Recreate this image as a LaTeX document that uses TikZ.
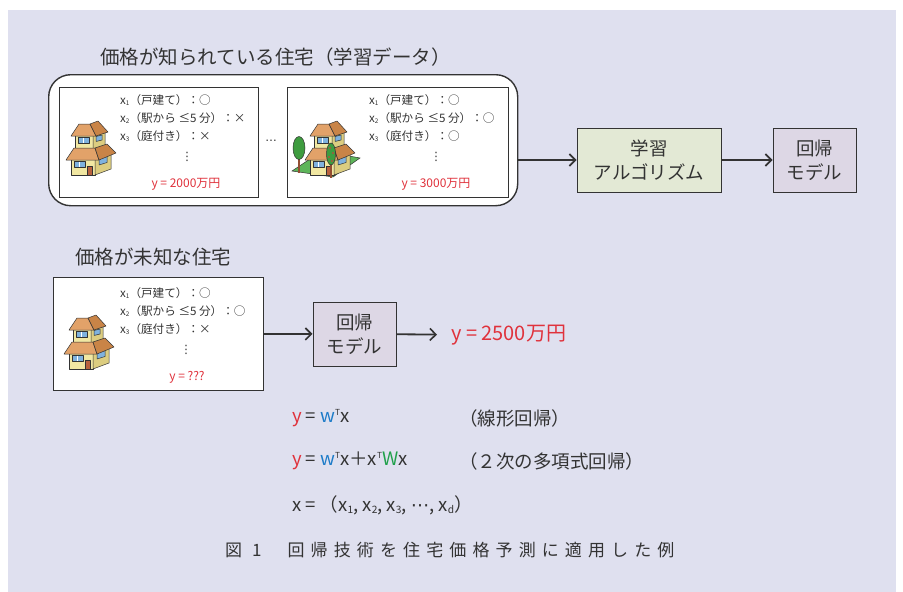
\documentclass[tikz,border=0pt]{standalone}
\usepackage{fontspec}
\setmainfont{Noto Sans CJK JP}
\newfontfamily\symfont{DejaVu Sans}
\newfontfamily\capfont[LetterSpace=36]{Noto Sans CJK JP}
\usetikzlibrary{arrows.meta,positioning}

\definecolor{bgcol}{HTML}{DFE0EF}
\definecolor{ink}{HTML}{333333}
\definecolor{yred}{HTML}{E0323C}
\definecolor{wblue}{HTML}{1C7BC8}
\definecolor{wgreen}{HTML}{1FA04A}
\definecolor{algofill}{HTML}{E3E9D5}
\definecolor{modelfill}{HTML}{DDD7E5}
\definecolor{wall}{HTML}{F1E7A2}
\definecolor{wallside}{HTML}{DCCD80}
\definecolor{roof}{HTML}{E2A269}
\definecolor{roofside}{HTML}{C98447}
\definecolor{glass}{HTML}{7FB2DE}
\definecolor{door}{HTML}{B8613E}
\definecolor{leaf}{HTML}{3E9C3F}
\definecolor{lawn}{HTML}{5DB55A}

% small indices for the feature names
\newcommand\subs[1]{\raisebox{-0.25ex}{\scalebox{0.55}{#1}}}
\newcommand\supT{\raisebox{0.75ex}{\scalebox{0.45}{T}}}

% two-storey house icon, drawn from its top left corner
\tikzset{
  house/.pic={
    \begin{scope}[draw=black!80,line width=0.5pt,line join=round]
      % ground floor
      \filldraw[fill=wall] (5,34) rectangle (29,54);
      \filldraw[fill=wallside] (29,34) -- (45,29) -- (45,48) -- (29,54) -- cycle;
      \filldraw[fill=glass] (8,40) rectangle (19,46);
      \draw[white,line width=0.8pt] (13.5,40.5) -- (13.5,45.5);
      \filldraw[fill=door] (21,45) rectangle (26,54);
      \filldraw[fill=glass] (33,38) -- (41,35.5) -- (41,41.5) -- (33,44) -- cycle;
      % upper floor
      \filldraw[fill=wall] (9,13) rectangle (27,29);
      \filldraw[fill=wallside] (27,13) -- (39,10) -- (39,25) -- (27,29) -- cycle;
      \filldraw[fill=glass] (12,16) rectangle (23,22);
      \draw[white,line width=0.8pt] (17.5,16.5) -- (17.5,21.5);
      \filldraw[fill=glass] (30,15.5) -- (36,14) -- (36,19) -- (30,20.5) -- cycle;
      % roofs
      \filldraw[fill=roof] (0,39) -- (8,27) -- (29,27) -- (33,39) -- cycle;
      \filldraw[fill=roofside] (33,39) -- (29,27) -- (41,23) -- (50,32) -- cycle;
      \filldraw[fill=roof] (5,15) -- (13,3) -- (24,3) -- (30,15) -- cycle;
      \filldraw[fill=roofside] (30,15) -- (24,3) -- (32,0) -- (42,11) -- cycle;
    \end{scope}
  }
}

\begin{document}
\begin{tikzpicture}[x=1pt,y=-1pt,
    card/.style={draw=ink,fill=white,line width=0.9pt,inner sep=0pt,anchor=north west},
    proc box/.style={draw=ink,line width=1pt,inner sep=0pt,align=center,
                     font=\fontsize{18.5}{24}\selectfont,text=ink},
    feat/.style={anchor=north west,align=left,inner sep=0pt,
                 font=\fontsize{11.6}{18}\selectfont,text=ink},
    dots/.style={inner sep=0pt,font=\symfont\fontsize{11.5}{12}\selectfont,text=ink},
    price/.style={text=yred,font=\fontsize{12}{14}\selectfont,inner sep=0pt},
    heading/.style={text=ink,font=\fontsize{19.5}{22}\selectfont,anchor=west,inner sep=0pt},
    eq/.style={text=ink,font=\fontsize{18.5}{20}\selectfont,anchor=west,inner sep=0pt},
    flow/.style={-{Straight Barb[length=6pt,width=12pt,line width=1.6pt]},line width=1.8pt,draw=ink}]

  \useasboundingbox (0,0) rectangle (903,592);
  \fill[bgcol] (8,10) rectangle (896,592);

  % training data
  \node[heading] (title1) at (100,57) {価格が知られている住宅（学習データ）};
  \node[draw=ink,fill=white,line width=1.4pt,rounded corners=22pt,anchor=north west,
        minimum width=469pt,minimum height=131pt] (train) at (48,74) {};

  \node[card,minimum width=199pt,minimum height=110pt] (card1) at (59,87) {};
  \pic at (66,121) {house};
  \node[feat] (f1) at (120,94) {x\subs{1}（戸建て）：○\\x\subs{2}（駅から ≤5 分）：×\\x\subs{3}（庭付き）：×};
  \node[dots] (v1) at (187,157) {⋮};
  \node[price] (y1) at (186,184) {y = 2000万円};

  \node[dots] (hdots) at (271,141) {…};

  \node[card,minimum width=221pt,minimum height=110pt] (card2) at (287,87) {};
  \filldraw[fill=lawn,draw=black!80,line width=0.5pt] (292,171) -- (333,177) -- (360,158) -- (322,151) -- cycle;
  \draw[door!80!black,line width=1.4pt] (299,156) -- (299,173);
  \filldraw[fill=leaf,draw=black!80,line width=0.5pt] (299,148) ellipse [x radius=6pt,y radius=11.5pt];
  \pic at (305,121) {house};
  \draw[door!80!black,line width=1.4pt] (331,160) -- (331,178);
  \filldraw[fill=leaf,draw=black!80,line width=0.5pt] (331,154) ellipse [x radius=4.5pt,y radius=11pt];
  \foreach \p in {(330,148),(333,153),(329,157),(332,161)}
    \fill[yred] \p circle (0.9pt);
  \node[feat] (f2) at (369,94) {x\subs{1}（戸建て）：○\\x\subs{2}（駅から ≤5 分）：○\\x\subs{3}（庭付き）：○};
  \node[dots] (v2) at (436,157) {⋮};
  \node[price] (y2) at (436,184) {y = 3000万円};

  \node[proc box,fill=algofill,minimum width=144pt,minimum height=64pt] (learn) at (649,160) {学習\\アルゴリズム};
  \node[proc box,fill=modelfill,minimum width=83pt,minimum height=64pt] (model) at (814.5,160) {回帰\\モデル};

  \draw[flow] (train.east |- learn.west) -- (learn.west);
  \draw[flow] (learn) -- (model);

  % house with unknown price
  \node[heading] (title2) at (75,257) {価格が未知な住宅};
  \node[card,minimum width=210pt,minimum height=113pt] (card3) at (53,277) {};
  \pic at (64,315) {house};
  \node[feat] (f3) at (120,287) {x\subs{1}（戸建て）：○\\x\subs{2}（駅から ≤5 分）：○\\x\subs{3}（庭付き）：×};
  \node[dots] (v3) at (186,350) {⋮};
  \node[price] (y3) at (187,377) {y = ???};

  \node[proc box,fill=modelfill,minimum width=83pt,minimum height=64pt] (model2) at (354.5,334) {回帰\\モデル};
  \node[anchor=west,inner xsep=14pt,inner ysep=0pt,text=yred,font=\fontsize{20}{22}\selectfont] (result) at (437,335) {y = 2500万円};

  \draw[flow] (card3) -- (model2);
  \draw[flow] (model2) -- (result);

  % models
  \node[eq] (lin) at (292,418) {{\color{yred}y} = {\color{wblue}w}\supT x};
  \node[eq] (linname) at (459,418) {（線形回帰）};
  \node[eq] (quad) at (292,461) {{\color{yred}y} = {\color{wblue}w}\supT x＋x\supT{\color{wgreen}W}x};
  \node[eq] (quadname) at (459,461) {（２次の多項式回帰）};
  \node[eq] (xvec) at (292,505) {x = （x\subs{1}, x\subs{2}, x\subs{3}, {\symfont ⋯}, x\subs{d}）};

  \node[anchor=west,inner sep=0pt,text=ink,font=\fontsize{17}{20}\selectfont\capfont] (caption) at (225,550) {図 1\hspace{26pt}回帰技術を住宅価格予測に適用した例};
\end{tikzpicture}
\end{document}
